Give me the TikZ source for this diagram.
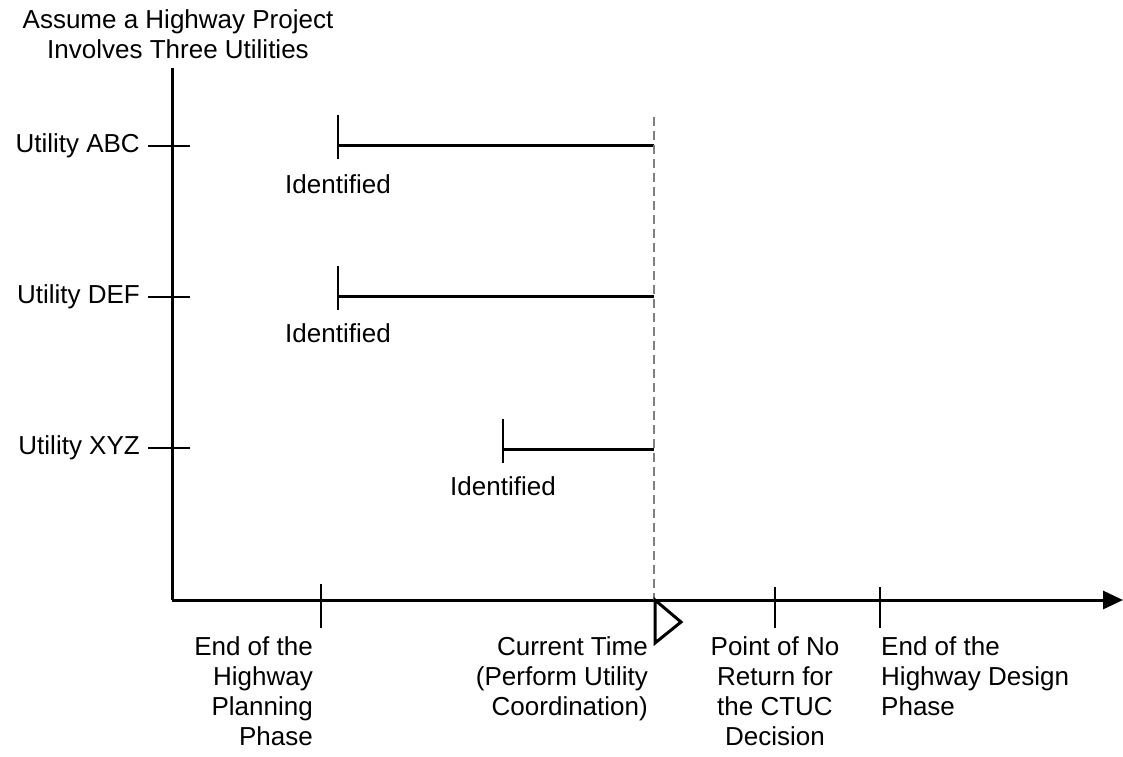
\documentclass[tikz,border=0pt]{standalone}
\usepackage{fontspec}
\setmainfont{Liberation Sans}
\usetikzlibrary{arrows.meta}
\begin{document}
\begin{tikzpicture}[x=1pt,y=-1pt,
  lbl/.style={inner sep=0pt,font=\fontsize{26}{30}\selectfont},
  axis/.style={line width=3pt},
  bar/.style={line width=3pt},
  tk/.style={line width=1.8pt}]
\useasboundingbox (0,0) rectangle (1123,756);
% axes
\coordinate (O) at (172,600);
\coordinate (Top) at (172,68);
\coordinate (End) at (1123,600);
\draw[axis] (Top) -- (O);
\draw[axis,-{Triangle[length=20pt,width=18pt]}] (O) -- (End);
% title
\node[lbl,align=center] (title) at (178,34) {Assume a Highway Project\\Involves Three Utilities};
% utility labels and y ticks
\foreach \n/\y/\t in {abc/146/Utility ABC, def/297/Utility DEF, xyz/448/Utility XYZ}{
  \coordinate (t1\n) at (148,\y);
  \coordinate (t2\n) at (190,\y);
  \draw[tk] (t1\n) -- (t2\n);
  \node[lbl,anchor=east] (u\n) at (140,\y) {\t};
}
% bars
\foreach \n/\x/\y/\ly in {a/338/145/184, d/338/296/333, x/503/449/486}{
  \coordinate (bs\n) at (\x,\y);
  \coordinate (bt\n) at (\x,\y-30);
  \coordinate (bb\n) at (\x,\y+14);
  \coordinate (be\n) at (654,\y);
  \draw[tk] (bt\n) -- (bb\n);
  \draw[bar] (bs\n) -- (be\n);
  \node[lbl] (id\n) at (\x,\ly) {Identified};
}
% dashed current time line
\coordinate (d1) at (654,117);
\coordinate (d2) at (654,600);
\draw[gray,line width=1.3pt,dash pattern=on 9pt off 5pt] (d1) -- (d2);
% x ticks
\foreach \n/\x/\a in {p/321/16, r/775/13, e/880/13}{
  \coordinate (x1\n) at (\x,600-\a);
  \coordinate (x2\n) at (\x,628);
  \draw[tk] (x1\n) -- (x2\n);
}
% current time marker
\coordinate (m1) at (655,600);
\coordinate (m2) at (681,622);
\coordinate (m3) at (655,643);
\draw[line width=3pt,line join=miter,fill=white] (m1) -- (m2) -- (m3) -- cycle;
% bottom labels
\node[lbl,align=right,anchor=north east] (lp) at (313,636) {End of the\\Highway\\Planning\\Phase};
\node[lbl,align=right,anchor=north east] (lc) at (648,636) {Current Time\\(Perform Utility\\Coordination)};
\node[lbl,align=center,anchor=north] (lr) at (775,636) {Point of No\\Return for\\the CTUC\\Decision};
\node[lbl,align=left,anchor=north west] (le) at (881,636) {End of the\\Highway Design\\Phase};
\end{tikzpicture}
\end{document}
